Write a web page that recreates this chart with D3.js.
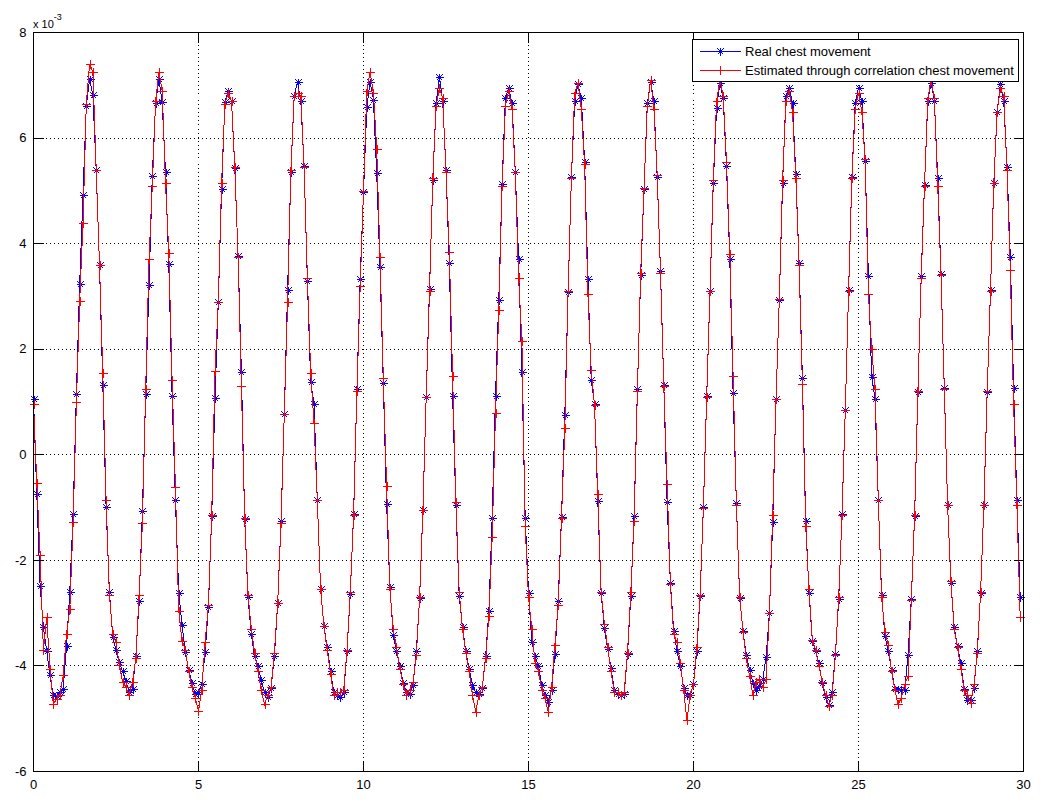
<!DOCTYPE html>
<html><head><meta charset="utf-8">
<script src="https://cdn.jsdelivr.net/npm/d3@7"></script>
<style>
body{margin:0;background:#fff;}
svg{display:block;}
text{font-family:"Liberation Sans",Arial,Helvetica,sans-serif;fill:#000;}
</style></head><body><svg id="chart" width="1055" height="808"></svg>
<script>
// sample grid (seconds)
const startTime = 0;
const sampleStep = 0.1;
// values in units of 10^-3
const realChest = [
1.06,-0.75,-2.48,-3.27,-3.72,-4.18,-4.56,-4.57,-4.50,-4.43,
-3.63,-2.59,-1.13,1.15,3.24,4.93,6.61,7.11,6.81,5.40,
3.59,1.33,-0.99,-2.59,-3.45,-3.70,-3.93,-4.10,-4.29,-4.50,
-4.43,-3.82,-2.77,-1.07,1.15,3.21,5.29,6.66,7.11,6.68,
5.36,3.61,1.12,-0.86,-2.61,-3.22,-3.74,-4.07,-4.32,-4.54,
-4.50,-4.34,-3.74,-2.89,-1.16,1.08,2.90,5.04,6.68,6.89,
6.70,5.43,3.76,1.56,-1.22,-2.70,-3.40,-3.82,-4.00,-4.27,
-4.50,-4.59,-4.41,-3.82,-2.81,-1.25,0.78,3.12,5.36,6.79,
7.07,6.70,5.47,3.29,1.38,0.97,-0.86,-2.54,-3.25,-3.65,
-4.10,-4.50,-4.56,-4.59,-4.50,-3.72,-2.63,-1.13,1.24,3.33,
4.97,6.58,7.07,6.73,5.34,3.56,1.36,-0.93,-2.50,-3.41,
-3.72,-4.00,-4.32,-4.50,-4.54,-4.36,-3.72,-2.72,-1.04,1.10,
3.15,5.20,6.66,7.16,6.70,5.40,3.63,1.12,-0.95,-2.68,
-3.27,-3.72,-4.05,-4.36,-4.50,-4.53,-4.41,-3.82,-2.95,-1.19,
1.12,2.94,5.13,6.75,6.95,6.66,5.36,3.70,1.56,-1.19,
-2.61,-3.54,-3.82,-4.00,-4.36,-4.56,-4.68,-4.45,-3.77,-2.77,
-1.17,0.76,3.08,5.26,6.70,7.02,6.75,5.55,3.33,1.42,
0.97,-0.88,-2.61,-3.29,-3.68,-4.04,-4.45,-4.54,-4.55,-4.53,
-3.77,-2.68,-1.16,1.24,3.40,5.04,6.66,7.07,6.70,5.26,
3.49,1.33,-0.90,-2.43,-3.34,-3.72,-4.00,-4.41,-4.56,-4.56,
-4.34,-3.71,-2.68,-0.99,1.12,3.11,5.15,6.57,7.04,6.75,
5.47,3.70,1.17,-0.92,-2.72,-3.34,-3.80,-4.07,-4.32,-4.45,
-4.38,-4.25,-3.83,-3.00,-1.27,1.06,2.94,5.15,6.79,6.95,
6.66,5.31,3.63,1.45,-1.25,-2.61,-3.52,-3.72,-3.95,-4.32,
-4.59,-4.74,-4.50,-3.77,-2.74,-1.13,0.85,3.12,5.27,6.66,
6.95,6.70,5.56,3.38,1.48,1.06,-0.86,-2.65,-3.43,-3.72,
-4.07,-4.43,-4.43,-4.45,-4.45,-3.80,-2.74,-1.16,1.19,3.38,
5.11,6.70,7.05,6.70,5.25,3.42,1.27,-0.95,-2.43,-3.27,
-3.63,-3.95,-4.43,-4.65,-4.64,-4.41,-3.72,-2.61,-0.95,1.19,
3.12,5.15,6.49,7.02,6.70,5.46,3.74,1.27,-0.86,-2.70
];
const estimatedChest = [
0.97,-0.54,-1.90,-3.70,-3.07,-4.05,-4.73,-4.62,-4.55,-4.18,
-3.40,-2.93,-1.27,1.00,2.92,4.40,6.65,7.40,7.25,5.40,
3.60,1.55,-0.85,-2.65,-3.40,-3.55,-3.98,-4.30,-4.40,-4.55,
-4.30,-3.85,-2.65,-1.30,1.25,3.70,5.10,6.70,7.25,6.90,
5.15,3.83,1.42,-0.61,-2.95,-3.52,-3.70,-4.10,-4.40,-4.60,
-4.85,-4.45,-3.55,-2.85,-1.15,1.58,2.90,5.15,6.65,6.85,
6.70,5.45,3.75,1.30,-1.20,-2.65,-3.30,-3.75,-4.10,-4.45,
-4.73,-4.55,-4.40,-3.75,-2.80,-1.30,0.78,2.90,5.40,6.80,
6.85,6.80,5.45,3.35,1.55,0.60,-0.85,-2.55,-3.25,-3.70,
-4.15,-4.55,-4.50,-4.50,-4.45,-3.70,-2.60,-1.15,1.20,3.20,
5.00,6.90,7.25,6.85,5.80,3.75,1.45,-0.60,-2.55,-3.30,
-3.65,-4.05,-4.35,-4.55,-4.45,-4.30,-3.80,-2.70,-1.05,1.10,
3.10,5.25,6.60,6.95,6.75,5.35,3.85,1.50,-0.90,-2.60,
-3.30,-3.75,-4.10,-4.55,-4.87,-4.55,-4.40,-3.85,-3.05,-1.55,
0.80,2.75,5.10,6.60,6.90,6.55,5.35,3.35,2.15,-1.35,
-2.70,-3.30,-3.95,-4.10,-4.45,-4.60,-4.88,-4.40,-3.60,-2.85,
-1.20,0.50,3.10,5.25,6.85,7.05,6.55,5.50,3.05,1.60,
0.95,-0.75,-2.60,-3.20,-3.65,-4.10,-4.50,-4.50,-4.55,-4.50,
-3.75,-2.60,-1.25,1.20,3.45,5.05,6.60,7.10,6.55,5.30,
3.45,1.30,-0.55,-2.45,-3.40,-3.55,-3.95,-4.45,-5.03,-4.55,
-4.35,-3.65,-2.65,-1.00,1.10,3.10,5.20,6.70,7.10,6.80,
5.55,3.80,1.50,-0.95,-2.70,-3.35,-3.85,-4.20,-4.55,-4.30,
-4.25,-4.40,-4.25,-3.00,-1.15,1.05,2.95,5.20,6.70,6.90,
6.50,5.25,3.60,1.35,-1.35,-2.55,-3.50,-3.70,-4.00,-4.30,
-4.55,-4.75,-4.55,-3.80,-2.70,-1.15,0.85,3.10,5.25,6.55,
6.85,6.50,5.60,3.05,2.00,1.25,-0.85,-2.70,-3.35,-3.60,
-4.10,-4.45,-4.73,-4.60,-4.35,-4.20,-2.75,-1.15,1.20,3.35,
5.10,6.75,7.10,6.75,5.10,3.40,1.25,-0.95,-2.40,-3.30,
-3.65,-4.05,-4.45,-4.55,-4.70,-4.35,-3.75,-2.60,-0.95,1.20,
3.10,5.15,6.50,6.95,6.80,5.40,3.50,0.97,-0.95,-3.07
];
const xTickValues = [0,5,10,15,20,25,30];
const yTickValues = [-6,-4,-2,0,2,4,6,8];
const seriesNames = ["Real chest movement","Estimated through correlation chest movement"];
const seriesColors = ["#0000ff","#ff0000"];
const exponentBase = "x 10";
const exponentPower = "-3";

const svg = d3.select("#chart");
const x = d3.scaleLinear().domain([0,30]).range([33.5,1023.5]);
const y = d3.scaleLinear().domain([-6,8]).range([771.5,32.5]);
const tOf = i => startTime + i*sampleStep;

// grid
const grid = svg.append("g").attr("stroke","#000").attr("stroke-width",1)
  .attr("stroke-dasharray","1,3").attr("shape-rendering","crispEdges");
grid.selectAll(".gx").data(xTickValues.slice(1,-1)).join("line")
  .attr("x1",d=>x(d)).attr("x2",d=>x(d)).attr("y1",y(8)).attr("y2",y(-6));
grid.selectAll(".gy").data(yTickValues.slice(1,-1)).join("line")
  .attr("y1",d=>y(d)).attr("y2",d=>y(d)).attr("x1",x(0)).attr("x2",x(30));

// data
const line = d3.line().x((d,i)=>x(tOf(i))).y(d=>y(d));
function starPath(data){
  let p="";
  data.forEach((d,i)=>{
    const cx=Math.round(x(tOf(i)))+0.5, cy=Math.round(y(d))+0.5;
    p+=`M${cx-4},${cy}H${cx+4}M${cx},${cy-4}V${cy+4}M${cx-3},${cy-3}L${cx+3},${cy+3}M${cx-3},${cy+3}L${cx+3},${cy-3}`;
  });
  return p;
}
function plusPath(data){
  let p="";
  data.forEach((d,i)=>{
    const cx=Math.round(x(tOf(i)))+0.5, cy=Math.round(y(d))+0.5;
    p+=`M${cx-4.5},${cy}H${cx+4.5}M${cx},${cy-4.5}V${cy+4.5}`;
  });
  return p;
}
const plot = svg.append("g").attr("fill","none").attr("stroke-width",1).attr("shape-rendering","crispEdges");
plot.append("path").attr("d",line(realChest)).attr("stroke",seriesColors[0]);
plot.append("path").attr("d",starPath(realChest)).attr("stroke",seriesColors[0]);
plot.append("path").attr("d",line(estimatedChest)).attr("stroke",seriesColors[1]);
plot.append("path").attr("d",plusPath(estimatedChest)).attr("stroke",seriesColors[1]);

// axes
const fs = 13;
function styleAxis(g){
  g.select(".domain").remove();
  g.selectAll("line").attr("stroke","#000").attr("shape-rendering","crispEdges");
  g.selectAll("text").attr("font-size",fs).attr("font-family","Liberation Sans, Arial, sans-serif").attr("fill","#000");
}
svg.append("g").attr("transform",`translate(0,${y(-6)})`)
  .call(d3.axisBottom(x).tickValues(xTickValues).tickSize(-10).tickPadding(8).offset(0).tickFormat(d3.format("d")))
  .call(styleAxis);
svg.append("g").attr("transform",`translate(0,${y(8)})`)
  .call(d3.axisTop(x).tickValues(xTickValues).tickSize(-10).offset(0).tickFormat(""))
  .call(styleAxis);
svg.append("g").attr("transform",`translate(${x(0)},0)`)
  .call(d3.axisLeft(y).tickValues(yTickValues).tickSize(-10).tickPadding(7).offset(0).tickFormat(d=>String(d)))
  .call(styleAxis);
svg.append("g").attr("transform",`translate(${x(30)},0)`)
  .call(d3.axisRight(y).tickValues(yTickValues).tickSize(-10).offset(0).tickFormat(""))
  .call(styleAxis);
svg.selectAll("text").attr("font-size",fs);

// box
svg.append("rect").attr("x",x(0)).attr("y",y(8)).attr("width",x(30)-x(0)).attr("height",y(-6)-y(8))
  .attr("fill","none").attr("stroke","#000").attr("shape-rendering","crispEdges");

// exponent label
const ex = svg.append("text").attr("x",33).attr("y",27.5).attr("font-size",11);
ex.append("tspan").text(exponentBase);
ex.append("tspan").attr("dy",-7.5).attr("font-size",9).text(exponentPower);

// legend
const lg = svg.append("g");
lg.append("rect").attr("x",692.5).attr("y",39.5).attr("width",326).attr("height",42)
  .attr("fill","#fff").attr("stroke","#000").attr("shape-rendering","crispEdges");
seriesNames.forEach((name,k)=>{
  const ly = 51.5 + k*19;
  lg.append("line").attr("x1",700).attr("x2",741).attr("y1",ly).attr("y2",ly)
    .attr("stroke",seriesColors[k]).attr("shape-rendering","crispEdges");
  const cx=720.5;
  const mp = k===0
    ? `M${cx-4},${ly}H${cx+4}M${cx},${ly-4}V${ly+4}M${cx-3},${ly-3}L${cx+3},${ly+3}M${cx-3},${ly+3}L${cx+3},${ly-3}`
    : `M${cx-4.5},${ly}H${cx+4.5}M${cx},${ly-4.5}V${ly+4.5}`;
  lg.append("path").attr("d",mp).attr("stroke",seriesColors[k]).attr("fill","none").attr("shape-rendering","crispEdges");
  lg.append("text").attr("x",745).attr("y",ly+4.5).attr("font-size",fs).text(name);
});
</script></body></html>
